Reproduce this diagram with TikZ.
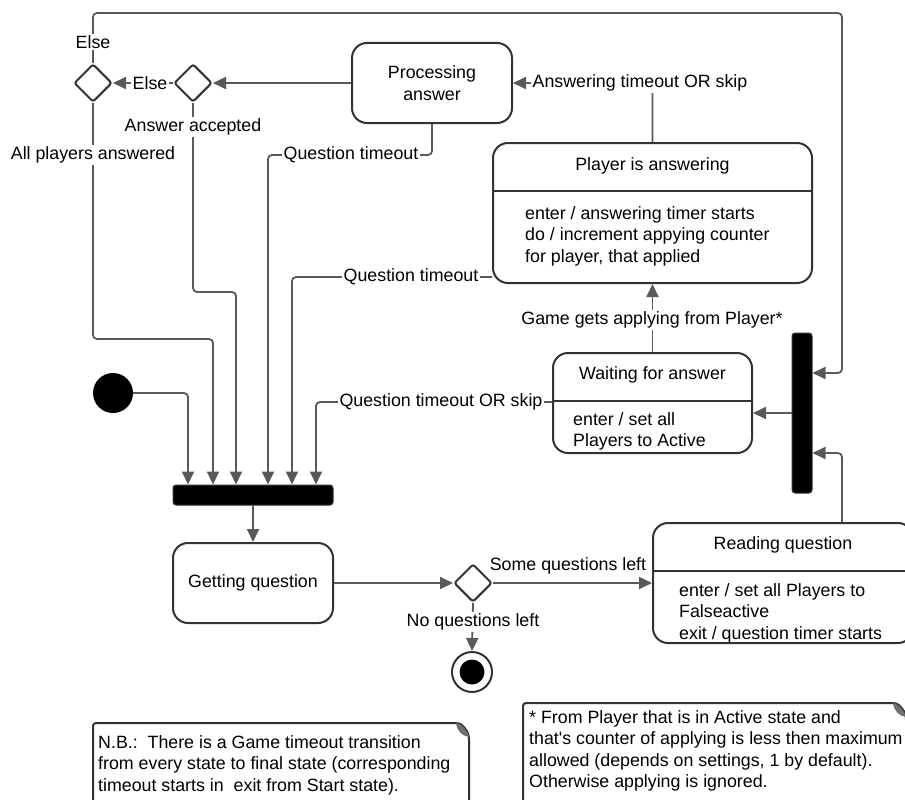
\documentclass[tikz,border=0pt]{standalone}
\usepackage{fontspec}
\setmainfont{Liberation Sans}
\usetikzlibrary{arrows.meta,shapes.geometric}
\definecolor{linegray}{HTML}{595959}
\definecolor{boxline}{HTML}{333333}
\definecolor{foldgray}{HTML}{707070}

\begin{document}
\begin{tikzpicture}[x=1pt,y=-1pt,
  every node/.style={font=\fontsize{17.8pt}{21.6pt}\selectfont, text=black},
  state/.style={draw=boxline, line width=2pt, rounded corners=15pt, fill=white, inner sep=0pt, align=center},
  conn/.style={draw=linegray, line width=1.8pt, rounded corners=4pt, -{Triangle[length=13pt,width=12pt]}},
  lbl/.style={fill=white, inner sep=1.5pt},
  choice/.style={diamond, draw=boxline, line width=2pt, rounded corners=2.5pt, minimum width=38pt, minimum height=38pt, inner sep=0pt, fill=white},
  bar/.style={fill=black, draw=boxline, line width=1pt, rounded corners=3pt, inner sep=0pt},
  divider/.style={draw=boxline, line width=2pt},
  body/.style={align=left, anchor=north west, inner sep=0pt},
  notebox/.style={draw=boxline, line width=2pt, fill=white, rounded corners=3pt},
]
\useasboundingbox (0,0) rectangle (905,800);
\clip (0,0) rectangle (905,800);
\fill[white] (0,0) rectangle (905,800);

% ---- states ----
\node[state, minimum width=160pt, minimum height=80pt] (proc) at (432,83) {Processing\\answer};

\node[state, minimum width=319pt, minimum height=140pt] (pa) at (652.5,213) {};
\node (pa-title) at (652.5,166) {Player is answering};
\draw[divider] (pa.west |- 0,191) -- (pa.east |- 0,191);
\node[body] (pa-body) at (525,206) {enter / answering timer starts\\do / increment appying counter\\for player, that applied};

\node[state, minimum width=199pt, minimum height=100pt] (wait) at (652.5,403) {};
\node (wait-title) at (652.5,375) {Waiting for answer};
\draw[divider] (wait.west |- 0,401) -- (wait.east |- 0,401);
\node[body] (wait-body) at (573,412) {enter / set all\\Players to Active};

\node[state, minimum width=260pt, minimum height=120pt] (read) at (783,583) {};
\node (read-title) at (783,545) {Reading question};
\draw[divider] (read.west |- 0,571) -- (read.east |- 0,571);
\node[body] (read-body) at (679,583) {enter / set all Players to\\Falseactive\\exit / question timer starts};

\node[state, minimum width=160pt, minimum height=80pt] (getq) at (253,583) {Getting question};

% ---- pseudo states ----
\node[choice] (d1) at (93,83) {};
\node[choice] (d2) at (193,83) {};
\node[choice] (d3) at (473,583) {};
\node[bar, minimum width=160pt, minimum height=20pt] (forkH) at (253,495) {};
\node[bar, minimum width=20pt, minimum height=160pt] (forkV) at (802,413) {};
\node[circle, fill=black, minimum size=40pt, inner sep=0pt] (start) at (113,393) {};
\node[circle, draw=boxline, line width=2pt, fill=white, minimum size=40pt, inner sep=0pt] (final) at (472,672) {};
\node[circle, fill=black, minimum size=25pt, inner sep=0pt] (final-dot) at (final.center) {};

% ---- transitions ----
\draw[conn] (proc.west) -- (d2.east);
\draw[conn] (d2.west) -- (d1.east);
\draw[conn] (d1.north) |- (842,13) |- (forkV.east |- 0,373);
\draw[conn] (pa.north) |- (proc.east);
\draw[conn] (wait.north) -- (pa.south);
\draw[conn] (forkV.west) -- (wait.east |- forkV.west);
\draw[conn] (read.north -| 842,0) |- (forkV.east |- 0,453);
\draw[conn] (start.east) -| (forkH.north -| 188,0);
\draw[conn] (d1.south) |- (213,339) -- (forkH.north -| 213,0);
\draw[conn] (d2.south) |- (236,292) -- (forkH.north -| 236,0);
\draw[conn] (proc.south) |- (268,155) -- (forkH.north -| 268,0);
\draw[conn] (pa.west |- 0,277) -| (forkH.north -| 292,0);
\draw[conn] (wait.west |- 0,402) -| (forkH.north -| 316,0);
\draw[conn] (forkH.south) -- (getq.north);
\draw[conn] (getq.east) -- (d3.west);
\draw[conn] (d3.east) -- (read.west |- d3.east);
\draw[conn] (d3.south) -- (final.north);

% ---- transition labels ----
\node[lbl] (l-else1) at (93,42) {Else};
\node[lbl] (l-else2) at (150,83) {Else};
\node[lbl] (l-all) at (93,155) {All players answered};
\node[lbl] (l-acc) at (193,127) {Answer accepted};
\node[lbl] (l-qt1) at (351,155) {Question timeout};
\node[lbl] (l-qt2) at (411,277) {Question timeout};
\node[lbl] (l-qt3) at (441,402) {Question timeout OR skip};
\node[lbl] (l-ans) at (640,83) {Answering timeout OR skip};
\node[lbl] (l-game) at (652,320) {Game gets applying from Player*};
\node (l-some) at (568,566) {Some questions left};
\node[lbl] (l-none) at (473,622) {No questions left};

% ---- notes ----
\draw[notebox] (93,815) -- (93,723) -- (456,723) .. controls (462,724) and (467,730) .. (469,737) -- (469,815);
\fill[foldgray] (456,723) .. controls (462,724) and (467,730) .. (469,737) .. controls (462,736) and (457,731) .. (456,723);
\node[body] (note1) at (98,735) {N.B.:\ \ There is a Game timeout transition\\from every state to final state (corresponding\\timeout starts in\ \ exit from Start state).};

\draw[notebox] (523,815) -- (523,703) -- (893,703) .. controls (899,704) and (904,710) .. (906,717) -- (906,815);
\fill[foldgray] (893,703) .. controls (899,704) and (904,710) .. (906,717) .. controls (899,716) and (894,711) .. (893,703);
\node[body] (note2) at (529,710) {* From Player that is in Active state and\\that\textquotesingle s counter of applying is less then maximum\\allowed (depends on settings, 1 by default).\\Otherwise applying is ignored.};
\end{tikzpicture}
\end{document}
